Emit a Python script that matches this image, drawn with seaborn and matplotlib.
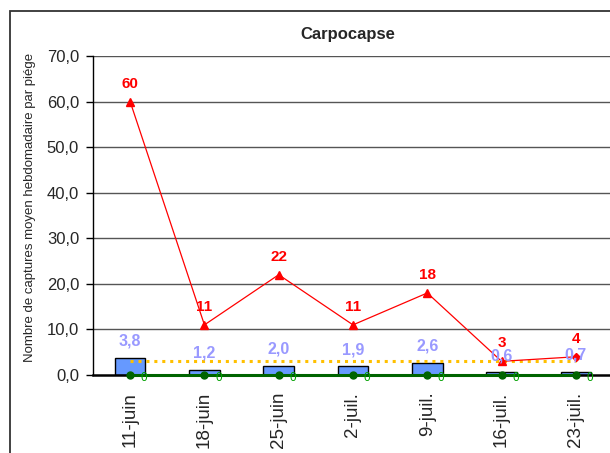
import numpy as np
import matplotlib
matplotlib.use("Agg")
import matplotlib.pyplot as plt
import seaborn as sns
from matplotlib.patches import Rectangle

# weekly data
dates = ["11-juin", "18-juin", "25-juin", "2-juil.", "9-juil.", "16-juil.", "23-juil."]
moyenne = [3.8, 1.2, 2.0, 1.9, 2.6, 0.6, 0.7]
max_piege = [60, 11, 22, 11, 18, 3, 4]
seuil = [3.0] * 7
zero_serie = [0] * 7

sns.set_style("white")
plt.rcParams['font.family'] = ['Liberation Sans', 'DejaVu Sans']

fig = plt.figure(figsize=(6.1, 4.53), dpi=100)
ax = fig.add_axes([93 / 610, 1 - 375 / 453, 520 / 610, 319 / 453])

x = np.arange(len(dates))

# grid lines
for v in range(10, 71, 10):
    ax.axhline(v, color="#555555", lw=1, zorder=0)

sns.barplot(x=dates, y=moyenne, color="#6699FF", edgecolor="black",
            linewidth=1, width=0.41, saturation=1, ax=ax, zorder=2)

# orange threshold
ax.plot(x, seuil, color="#FFC000", lw=2.2, ls=(0, (1, 1.6)), zorder=3)

# green line at zero
ax.plot(x, zero_serie, color="#006400", lw=2.2, marker="o", ms=5,
        clip_on=False, zorder=4)

# red line
ax.plot(x, max_piege, color="#FF0000", lw=0.9, zorder=5)
ax.plot(x[:-1], max_piege[:-1], ls="none", marker="^", ms=6, color="#FF0000", zorder=6)
ax.plot(x[-1:], max_piege[-1:], ls="none", marker="D", ms=4.5, color="#FF0000", zorder=6)

for i in range(len(dates)):
    ax.annotate(f"{moyenne[i]:.1f}".replace(".", ","), (x[i], moyenne[i]),
                xytext=(0, 12), textcoords="offset points", ha="center", va="center",
                color="#9999FF", fontsize=11.5, fontweight="bold", zorder=7)
    ax.annotate(str(max_piege[i]), (x[i], max_piege[i]),
                xytext=(0, 13), textcoords="offset points", ha="center", va="center",
                color="#FF0000", fontsize=11, fontweight="bold", zorder=7)
    ax.annotate(str(zero_serie[i]), (x[i], zero_serie[i]),
                xytext=(10, -2), textcoords="offset points", ha="center", va="center",
                color="#00A000", fontsize=8.5, zorder=7)

ax.set_xlim(-0.5, len(dates) - 0.5)
ax.set_ylim(0, 70)
ax.set_yticks(range(0, 71, 10))
ax.set_yticklabels([f"{v:.1f}".replace(".", ",") for v in range(0, 71, 10)], fontsize=12)
ax.set_xticks(x)
ax.set_xticklabels(dates, rotation=90, fontsize=13.5)
ax.set_xticks(np.arange(-0.5, len(dates), 1), minor=True)
ax.tick_params(axis="x", which="major", length=0, pad=12)
ax.tick_params(axis="x", which="minor", length=5, width=1, color="black", direction="out")
ax.tick_params(axis="y", length=5, width=1, color="black", direction="out", left=True, pad=5)

for s in ["top", "right"]:
    ax.spines[s].set_visible(False)
ax.spines["left"].set_color("black")
ax.spines["left"].set_linewidth(1)
ax.spines["bottom"].set_color("black")
ax.spines["bottom"].set_linewidth(1.8)
ax.set_ylabel("")

fig.text(30 / 610, 1 - 207 / 453, "Nombre de captures moyen hebdomadaire par piége",
         rotation=90, ha="center", va="center", fontsize=9.5)
fig.text(348 / 610, 1 - 35 / 453, "Carpocapse", ha="center", va="center",
         fontsize=12, fontweight="bold")

# outer chart frame, cut by the image edge
fig.patches.append(Rectangle((10 / 610, -0.2), 1.2, 1.2 - 11 / 453,
                             transform=fig.transFigure, fill=False,
                             edgecolor="#333333", lw=1.3))

fig.savefig("out.png", dpi=100)
